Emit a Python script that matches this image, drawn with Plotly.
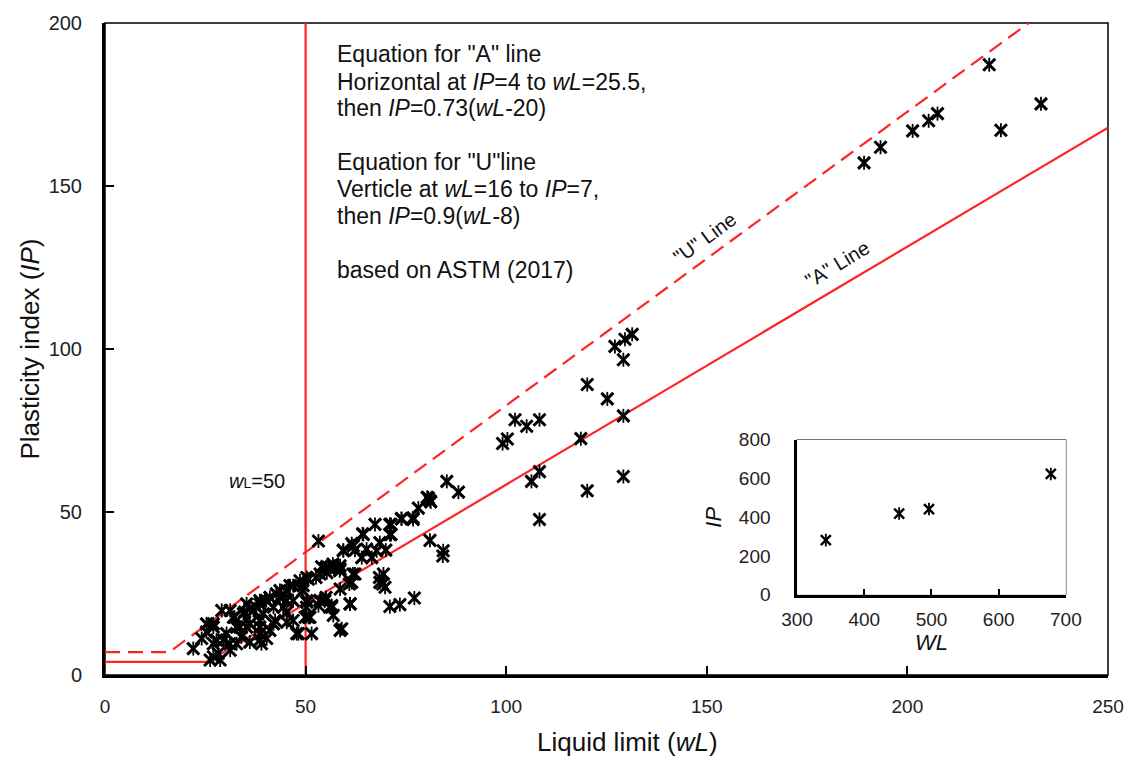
import plotly.graph_objects as go

# ---- data ----
wl_main = [
    189.2, 193.3, 201.3, 205.3, 207.5, 220.4, 223.3, 233.3,
    127.1, 129.6, 131.4, 129.2, 120.2, 125.2, 129.2, 118.6, 102.2, 105.1, 108.3, 99.1, 100.3,
    108.3, 106.3, 120.2, 129.2, 108.3, 85.2, 88.1, 80.6, 81.2, 78.1, 73.9, 76.8, 71.3, 71.3,
    68.5, 81.0, 84.3, 84.2,
    81.0, 80.3, 76.8, 73.9, 71.0, 67.3, 71.0, 64.2, 61.5, 59.4, 62.3, 65.2, 67.7, 70.0, 64.0,
    66.5, 53.2, 54.0, 56.9, 58.6, 55.3, 50.7, 49.4, 62.3, 61.5, 58.6, 69.4, 68.5, 69.8, 61.1,
    54.8, 53.2, 56.5, 56.9, 50.3, 50.7, 71.0, 73.5, 77.1, 59.0,
    59.4, 61.9, 64.4, 55.7, 58.6, 53.6, 50.3, 48.6, 46.1, 43.6, 41.1, 38.6, 36.1, 50.3, 53.6,
    56.5, 61.1, 49.9, 51.1, 45.3, 42.0, 58.6, 48.2, 51.5, 38.6, 35.3, 44.4, 46.9,
    29.1, 27.0, 24.1, 22.0, 27.0, 28.2, 26.2, 28.7, 27.0, 29.5, 31.2, 32.8, 34.0, 36.1, 38.6,
    32.8, 32.0, 34.5, 37.0, 39.5, 36.1, 38.6, 41.1, 42.4, 42.0, 43.6, 45.3, 46.9, 38.6, 35.3,
    31.2, 47.8, 45.3, 40.3, 25.3,
    39.0, 42.7, 40.2, 37.7, 34.8, 32.3, 38.6, 33.6, 30.3, 27.8, 31.1, 25.3, 27.0, 45.2, 46.9,
    50.2, 49.3, 52.6, 55.1, 56.8, 58.5, 55.1, 53.5, 56.0, 61.8, 60.9, 68.4, 69.2,
]
ip_main = [
    157.1, 161.9, 166.9, 170.0, 172.2, 187.2, 167.1, 175.2,
    100.8, 103.0, 104.5, 96.7, 89.1, 84.7, 79.5, 72.5, 78.3, 76.3, 78.3, 71.0, 72.4,
    62.4, 59.4, 56.5, 60.9, 47.7, 59.4, 56.1, 54.3, 53.1, 51.2, 47.9, 47.7, 46.2, 43.1,
    40.6, 41.3, 38.1, 36.5,
    53.5, 54.5, 48.2, 48.0, 46.2, 46.2, 43.1, 43.3, 40.3, 38.3, 38.3, 38.6, 38.1, 38.3, 36.0,
    36.0, 41.1, 33.2, 33.2, 32.5, 31.4, 29.4, 27.4, 31.0, 28.4, 26.4, 31.0, 28.4, 26.9, 21.8,
    22.8, 21.3, 20.8, 18.3, 22.3, 17.7, 21.0, 21.6, 23.6, 14.2,
    38.1, 39.6, 43.1, 33.0, 33.5, 31.0, 29.9, 28.9, 27.4, 25.9, 23.8, 21.8, 20.3, 22.8, 22.8,
    21.3, 21.8, 17.7, 17.7, 16.2, 15.7, 13.7, 12.7, 12.7, 12.7, 14.7, 20.8, 22.8,
    19.8, 15.7, 11.2, 8.1, 5.6, 6.6, 4.6, 4.6, 9.6, 10.7, 7.6, 9.6, 11.7, 10.1, 10.7,
    14.7, 17.7, 18.8, 19.8, 18.8, 15.7, 14.7, 13.7, 16.7, 20.8, 23.8, 25.9, 27.4, 22.8, 21.8,
    19.8, 12.7, 19.3, 11.2, 13.2,
    9.6, 24.9, 22.8, 20.8, 19.3, 17.7, 16.7, 14.7, 12.7, 10.7, 9.6, 15.7, 14.7, 22.8, 16.7,
    20.8, 25.9, 29.9, 33.0, 34.0, 32.0, 23.8, 22.8, 20.8, 31.0, 27.9, 29.9, 27.9,
]

wl_inset = [342.8, 451.9, 496.3, 677.6]
ip_inset = [282, 419, 442, 623]

# A line: IP=4 up to wL=25.5, then IP=0.73(wL-20)
a_line_wl = [0, 25.5, 250]
a_line_ip = [4, 0.73 * (25.5 - 20), 0.73 * (250 - 20)]
# U line: IP=7 up to wL=16, then IP=0.9(wL-8)
u_line_wl = [0, 16, 8 + 200 / 0.9]
u_line_ip = [7, 7, 200]
wl50_x = [50, 50]
wl50_y = [0, 200]

RED = "#FF2424"
FONT = "Arial, Liberation Sans, sans-serif"

fig = go.Figure()
fig.add_trace(go.Scatter(x=a_line_wl, y=a_line_ip, mode="lines",
                         line=dict(color=RED, width=2.2), hoverinfo="skip"))
fig.add_trace(go.Scatter(x=u_line_wl, y=u_line_ip, mode="lines",
                         line=dict(color=RED, width=2.2, dash="15px,8px"), hoverinfo="skip"))
fig.add_trace(go.Scatter(x=wl50_x, y=wl50_y, mode="lines",
                         line=dict(color=RED, width=2.2), hoverinfo="skip"))
# star markers (X plus short vertical stroke)
fig.add_trace(go.Scatter(x=wl_main, y=ip_main, mode="markers",
                         marker=dict(symbol="x-thin-open", size=12, color="black",
                                     line=dict(color="black", width=3))))
fig.add_trace(go.Scatter(x=wl_main, y=ip_main, mode="markers", hoverinfo="skip",
                         marker=dict(symbol="line-ns-open", size=10, color="black",
                                     line=dict(color="black", width=1.8))))
fig.add_trace(go.Scatter(x=wl_inset, y=ip_inset, mode="markers", xaxis="x2", yaxis="y2",
                         marker=dict(symbol="x-thin-open", size=10, color="black",
                                     line=dict(color="black", width=2.4))))
fig.add_trace(go.Scatter(x=wl_inset, y=ip_inset, mode="markers", xaxis="x2", yaxis="y2",
                         hoverinfo="skip",
                         marker=dict(symbol="line-ns-open", size=9, color="black",
                                     line=dict(color="black", width=1.8))))

tickfont = dict(family=FONT, size=19, color="#222")
ytickfont = dict(family=FONT, size=20, color="#222")

fig.update_layout(
    width=1136, height=760,
    margin=dict(l=105, r=28, t=18, b=85),
    plot_bgcolor="white", paper_bgcolor="white",
    showlegend=False,
    font=dict(family=FONT, color="#111"),
    xaxis=dict(range=[0, 250], tickvals=[0, 50, 100, 150, 200, 250],
               ticks="inside", ticklen=9, tickwidth=1.5, tickcolor="black",
               showline=True, linecolor="black", linewidth=3,
               showgrid=False, zeroline=False, tickfont=tickfont,
               ticklabelstandoff=12),
    yaxis=dict(range=[0, 200], tickvals=[0, 50, 100, 150, 200],
               ticks="inside", ticklen=9, tickwidth=1.5, tickcolor="black",
               showline=True, linecolor="black", linewidth=3,
               showgrid=False, zeroline=False, tickfont=ytickfont,
               ticklabelstandoff=16,
               title=dict(text="Plasticity index (<i>IP</i>)", font=dict(family=FONT, size=26, color="#111"),
                          standoff=2)),
    xaxis2=dict(domain=[0.690, 0.958], anchor="y2", range=[300, 700],
                tickvals=[300, 400, 500, 600, 700],
                ticks="inside", ticklen=6, tickwidth=2, tickcolor="black",
                showline=True, linecolor="black", linewidth=2.5,
                showgrid=False, zeroline=False, tickfont=tickfont,
                ticklabelstandoff=6,
                title=dict(text="<i>WL</i>", font=dict(family=FONT, size=22, color="#111"), standoff=0)),
    yaxis2=dict(domain=[0.123, 0.361], anchor="x2", range=[0, 800],
                tickvals=[0, 200, 400, 600, 800],
                ticks="", showline=True, linecolor="black", linewidth=2.5,
                showgrid=False, zeroline=False, tickfont=tickfont,
                ticklabelstandoff=20,
                title=dict(text="<i>IP</i>", font=dict(family=FONT, size=22, color="#111"), standoff=12)),
    shapes=[
        dict(type="rect", xref="paper", yref="paper", x0=0, x1=1, y0=0, y1=1,
             line=dict(color="black", width=1.5), layer="below"),
        dict(type="rect", xref="x2 domain", yref="y2 domain", x0=0, x1=1, y0=0, y1=1,
             line=dict(color="black", width=1), layer="below"),
    ],
)

# x-axis title (slightly right of centre, as in the reference)
fig.add_annotation(x=(627 - 105) / 1003, y=(675 - 743) / 657, xref="paper", yref="paper",
                   text="Liquid limit (<i>wL</i>)", showarrow=False,
                   font=dict(family=FONT, size=26, color="#111"),
                   xanchor="center", yanchor="middle")

ann_font = dict(family=FONT, size=23, color="#111")
text_x = (335 - 105) / 4.02
eq_lines = [
    ("Equation for \"A\" line", 49),
    ("Horizontal at <i>IP</i>=4 to <i>wL</i>=25.5,", 77),
    ("then <i>IP</i>=0.73(<i>wL</i>-20)", 104),
    ("Equation for \"U\"line", 158),
    ("Verticle at <i>wL</i>=16 to <i>IP</i>=7,", 185),
    ("then <i>IP</i>=0.9(<i>wL</i>-8)", 212),
    ("based on ASTM (2017)", 267),
]
for txt, py in eq_lines:
    fig.add_annotation(x=text_x, y=(675 - py) / 3.285, xref="x", yref="y", text=txt,
                       showarrow=False, xanchor="left", yanchor="middle", font=ann_font)

lab_font = dict(family=FONT, size=20, color="#111")
fig.add_annotation(x=(257 - 105) / 4.02, y=(675 - 480) / 3.285,
                   text="<i>w</i><span style='font-size:14px'>L</span>=50",
                   showarrow=False, font=lab_font, xanchor="center", yanchor="middle")
fig.add_annotation(x=(706 - 105) / 4.02, y=(675 - 235) / 3.285, text="\"U\" Line",
                   showarrow=False, font=lab_font, textangle=-36)
fig.add_annotation(x=(839 - 105) / 4.02, y=(675 - 261) / 3.285, text="\"A\" Line",
                   showarrow=False, font=lab_font, textangle=-31)

fig.write_html("out.html")
